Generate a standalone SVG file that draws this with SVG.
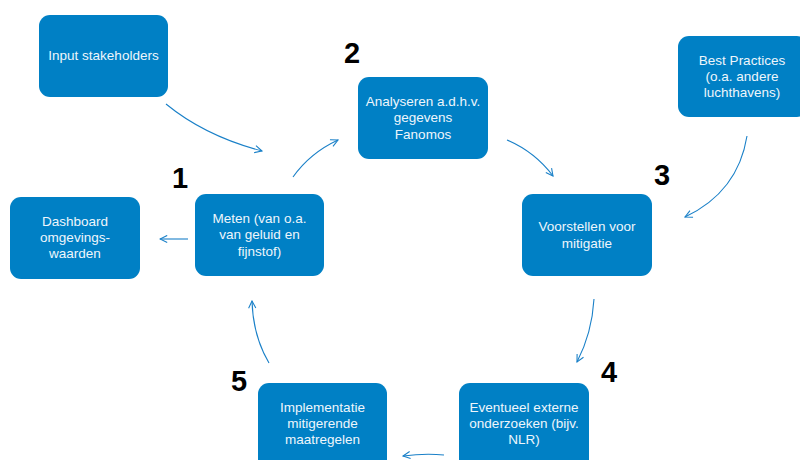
<svg xmlns="http://www.w3.org/2000/svg" width="800" height="460" viewBox="0 0 800 460">
<defs>
<marker id="ah" viewBox="0 0 10 10" refX="9" refY="5" markerWidth="9" markerHeight="9" markerUnits="userSpaceOnUse" orient="auto">
<path d="M1,1 L9,5 L1,9" fill="none" stroke="#1a80c8" stroke-width="1.2"/>
</marker>
<style>
.box{fill:#0080c5;}
.t{font-family:"Liberation Sans",Arial,sans-serif;font-size:13.5px;fill:#eef6fc;text-anchor:middle;}
.n{font-family:"Liberation Sans",Arial,sans-serif;font-size:29px;font-weight:bold;fill:#000;text-anchor:middle;}
.c{fill:none;stroke:#1a80c8;stroke-width:1.1;marker-end:url(#ah);}
</style>
</defs>
<rect width="800" height="460" fill="#fff"/>
<g id="input"><rect class="box" x="39" y="15" width="129" height="82" rx="11"/><text class="t" x="103.5" y="60">Input stakeholders</text></g>
<g id="analyseren"><rect class="box" x="358" y="77" width="130" height="82" rx="11"/><text class="t" x="423" y="106">Analyseren a.d.h.v.</text><text class="t" x="423" y="122">gegevens</text><text class="t" x="423" y="139">Fanomos</text></g>
<g id="best"><rect class="box" x="678" y="36" width="130" height="81" rx="11"/><text class="t" x="742" y="65">Best Practices</text><text class="t" x="742" y="81">(o.a. andere</text><text class="t" x="742" y="97">luchthavens)</text></g>
<g id="voorstellen"><rect class="box" x="522" y="194" width="130" height="82" rx="11"/><text class="t" x="587" y="231">Voorstellen voor</text><text class="t" x="587" y="248">mitigatie</text></g>
<g id="meten"><rect class="box" x="195" y="194" width="129" height="82" rx="11"/><text class="t" x="259.5" y="223">Meten (van o.a.</text><text class="t" x="259.5" y="239">van geluid en</text><text class="t" x="259.5" y="256">fijnstof)</text></g>
<g id="dashboard"><rect class="box" x="10" y="197" width="130" height="82" rx="11"/><text class="t" x="75" y="226">Dashboard</text><text class="t" x="75" y="242">omgevings-</text><text class="t" x="75" y="258">waarden</text></g>
<g id="implementatie"><rect class="box" x="258" y="383" width="129" height="90" rx="11"/><text class="t" x="322.5" y="412">Implementatie</text><text class="t" x="322.5" y="428">mitigerende</text><text class="t" x="322.5" y="444">maatregelen</text></g>
<g id="eventueel"><rect class="box" x="459" y="383" width="130" height="90" rx="11"/><text class="t" x="524" y="412">Eventueel externe</text><text class="t" x="524" y="428">onderzoeken (bijv.</text><text class="t" x="524" y="444">NLR)</text></g>
<g id="numbers">
<text class="n" x="180" y="188">1</text>
<text class="n" x="352" y="63">2</text>
<text class="n" x="662" y="185">3</text>
<text class="n" x="609" y="382">4</text>
<text class="n" x="239" y="391">5</text>
</g>
<g id="connectors">
<path class="c" d="M166,104 Q205,136 262,151"/>
<path class="c" d="M293,177 Q310,153 338,140"/>
<path class="c" d="M507,140 Q535,152 553,176"/>
<path class="c" d="M747,136 Q738,192 685,217"/>
<path class="c" d="M594,299 Q592,333 577,362"/>
<path class="c" d="M444,455 Q425,453 403,456"/>
<path class="c" d="M269,363 Q253,336 252,301"/>
<path class="c" d="M188,239 L160,239"/>
</g>
</svg>
